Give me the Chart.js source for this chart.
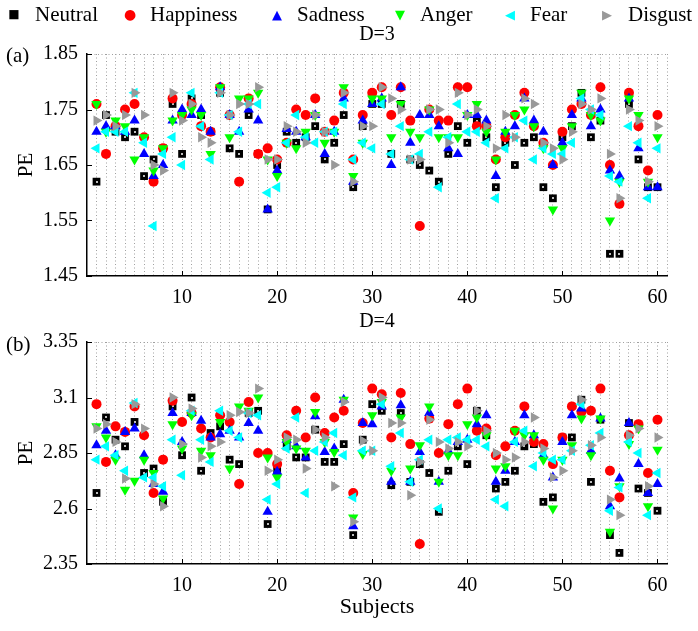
<!DOCTYPE html>
<html>
<head>
<meta charset="utf-8">
<script src="https://cdn.jsdelivr.net/npm/chart.js@4.4.0/dist/chart.umd.min.js"></script>
<style>
  body { margin: 0; background: #fff; font-family: "Liberation Serif", "Times New Roman", serif; }
  #wrap { position: relative; width: 698px; height: 631px; overflow: hidden; }
  canvas { position: absolute; left: 0; }
  .txt { position: absolute; font-size: 21px; line-height: 1; white-space: nowrap; color: #000; }
  .mid { transform: translate(-50%, -50%); }
  .mk { position: absolute; transform: translate(-50%, -50%); font-family: "DejaVu Sans", sans-serif; line-height: 1; }
</style>
</head>
<body>
<div id="wrap">
  <canvas id="chartA" width="698" height="310" style="top:0"></canvas>
  <canvas id="chartB" width="698" height="321" style="top:310px"></canvas>

  <span class="mk" style="left:14px;top:14px;font-size:12px;color:#000">■</span>
  <span class="txt" style="left:35px;top:4px">Neutral</span>
  <span class="mk" style="left:130px;top:14px;font-size:14px;color:#ff0000">●</span>
  <span class="txt" style="left:150px;top:4px">Happiness</span>
  <span class="mk" style="left:277px;top:14px;font-size:13px;color:#0000ff">▲</span>
  <span class="txt" style="left:297px;top:4px">Sadness</span>
  <span class="mk" style="left:400px;top:14px;font-size:13px;color:#00ff00">▼</span>
  <span class="txt" style="left:420px;top:4px">Anger</span>
  <span class="mk" style="left:510px;top:14px;font-size:13px;color:#00ffff">◀</span>
  <span class="txt" style="left:530px;top:4px">Fear</span>
  <span class="mk" style="left:607px;top:14px;font-size:13px;color:#999999">▶</span>
  <span class="txt" style="left:628px;top:4px">Disgust</span>

  <span class="txt mid" style="left:377px;top:33px;font-size:20px">D=3</span>
  <span class="txt mid" style="left:377px;top:320px;font-size:20px">D=4</span>
  <span class="txt" style="left:6px;top:45px">(a)</span>
  <span class="txt" style="left:6px;top:334px">(b)</span>
</div>
<script>
// x categories: subject index
const subjects = Array.from({ length: 60 }, (_, i) => i + 1);
const emotions = ['Neutral', 'Happiness', 'Sadness', 'Anger', 'Fear', 'Disgust'];

// panel (a), D=3
const d3Neutral   = [1.62,1.74,1.71,1.70,1.71,1.63,1.66,1.68,1.76,1.67, 1.77,1.74,1.71,1.78,1.68,1.67,1.74,1.67,1.57,1.65, 1.71,1.69,1.70,1.72,1.66,1.69,1.74,1.61,1.72,1.76, 1.76,1.67,1.76,1.66,1.65,1.64,1.62,1.67,1.72,1.69, 1.73,1.70,1.61,1.69,1.65,1.69,1.70,1.61,1.59,1.70, 1.72,1.78,1.70,1.73,1.49,1.49,1.76,1.66,1.61,1.61];
const d3Happiness = [1.76,1.67,1.72,1.75,1.76,1.70,1.62,1.68,1.77,1.74, 1.76,1.72,1.71,1.79,1.74,1.62,1.77,1.67,1.68,1.66, 1.69,1.75,1.74,1.77,1.71,1.73,1.78,1.66,1.74,1.78, 1.79,1.74,1.79,1.73,1.54,1.75,1.73,1.73,1.79,1.79, 1.72,1.72,1.66,1.70,1.74,1.78,1.72,1.69,1.65,1.71, 1.75,1.76,1.74,1.79,1.65,1.58,1.78,1.72,1.64,1.74];
const d3Sadness   = [1.71,1.72,1.72,1.71,1.73,1.67,1.63,1.65,1.73,1.75, 1.74,1.75,1.71,1.79,1.74,1.71,1.75,1.73,1.57,1.64, 1.715,1.71,1.70,1.74,1.67,1.71,1.77,1.62,1.73,1.76, 1.77,1.65,1.79,1.69,1.74,1.74,1.72,1.68,1.67,1.74, 1.74,1.73,1.63,1.71,1.72,1.77,1.73,1.71,1.65,1.69, 1.74,1.77,1.72,1.75,1.64,1.63,1.77,1.68,1.61,1.61];
const d3Anger     = [1.76,1.71,1.73,1.72,1.66,1.70,1.64,1.68,1.73,1.74, 1.75,1.74,1.67,1.79,1.70,1.77,1.77,1.78,1.66,1.63, 1.69,1.68,1.71,1.74,1.69,1.71,1.79,1.63,1.69,1.77, 1.77,1.70,1.76,1.71,1.70,1.75,1.70,1.70,1.70,1.74, 1.76,1.71,1.66,1.71,1.74,1.75,1.72,1.68,1.57,1.68, 1.72,1.78,1.74,1.73,1.55,1.62,1.77,1.74,1.62,1.70];
const d3Fear      = [1.68,1.71,1.71,1.71,1.78,1.69,1.54,1.67,1.70,1.65, 1.78,1.72,1.66,1.78,1.74,1.71,1.76,1.76,1.60,1.61, 1.69,1.74,1.70,1.69,1.71,1.71,1.76,1.66,1.69,1.68, 1.76,1.67,1.72,1.66,1.67,1.71,1.61,1.70,1.76,1.71, 1.71,1.69,1.59,1.68,1.70,1.73,1.66,1.68,1.67,1.67, 1.69,1.77,1.75,1.74,1.63,1.62,1.72,1.69,1.59,1.68];
const d3Disgust   = [1.73,1.74,1.72,1.74,1.78,1.74,1.65,1.64,1.78,1.73, 1.76,1.70,1.69,1.78,1.74,1.76,1.76,1.79,1.66,1.66, 1.72,1.71,1.69,1.74,1.71,1.65,1.78,1.62,1.72,1.72, 1.79,1.77,1.75,1.66,1.66,1.75,1.75,1.69,1.78,1.74, 1.75,1.72,1.68,1.74,1.70,1.77,1.76,1.69,1.68,1.66, 1.71,1.76,1.75,1.77,1.67,1.59,1.75,1.73,1.62,1.72];

// panel (b), D=4
const d4Neutral   = [2.67,3.01,2.91,2.88,2.99,2.76,2.78,2.63,3.06,2.84, 3.10,2.77,2.94,2.97,2.82,2.80,3.03,3.04,2.53,2.77, 2.88,2.83,2.83,2.955,2.81,2.81,2.89,2.48,2.91,3.07, 3.04,2.705,3.03,2.72,2.80,2.76,2.585,2.77,2.88,2.80, 3.04,2.93,2.69,2.72,2.77,2.88,2.89,2.63,2.65,2.92, 2.92,3.09,2.72,3.00,2.48,2.40,2.985,2.69,2.67,2.59];
const d4Happiness = [3.07,2.81,2.97,2.945,3.06,2.93,2.67,2.82,3.085,2.99, 3.03,2.96,2.92,3.02,2.99,2.71,3.08,2.85,2.85,2.80, 2.93,3.04,2.92,3.10,2.94,3.01,3.04,2.67,2.985,3.14, 3.115,2.92,3.12,2.89,2.44,3.005,2.85,2.98,3.07,3.14, 2.95,2.96,2.84,2.88,2.95,3.06,2.90,2.89,2.80,2.92, 3.06,3.035,3.04,3.14,2.77,2.65,2.93,2.98,2.76,3.00];
const d4Sadness   = [2.885,2.95,2.84,2.945,2.96,2.84,2.71,2.675,3.03,2.90, 3.03,2.995,2.92,2.935,2.95,2.92,2.985,2.95,2.585,2.765, 2.91,2.88,2.83,3.015,2.855,2.87,3.09,2.52,2.985,2.98, 3.06,2.72,3.065,2.72,2.855,3.03,2.72,2.86,2.90,2.91, 2.98,3.02,2.72,2.77,2.90,3.02,2.93,2.84,2.74,2.90, 3.02,3.05,2.86,3.005,2.61,2.735,2.985,2.80,2.67,2.71];
const d4Anger     = [2.97,2.92,2.82,2.685,2.725,2.82,2.76,2.645,2.98,2.87, 3.02,2.86,2.84,2.99,2.78,3.06,3.04,3.10,2.83,2.74, 2.90,2.87,2.86,3.035,2.90,2.855,3.09,2.56,2.845,3.02, 3.08,2.77,3.01,2.78,2.885,3.06,2.72,2.84,2.84,2.98, 3.01,2.93,2.78,2.79,2.95,2.93,2.93,2.82,2.60,2.82, 2.885,3.005,2.84,3.005,2.495,2.70,2.89,2.96,2.61,2.865];
const d4Fear      = [2.82,2.88,2.84,2.77,3.075,2.74,2.74,2.70,2.91,2.75, 3.04,2.91,2.81,3.04,2.95,2.92,3.03,3.02,2.64,2.71, 2.87,3.01,2.67,2.86,2.90,2.94,2.84,2.65,2.86,2.86, 3.07,2.79,2.94,2.72,2.82,2.91,2.60,2.91,2.92,2.91, 2.91,2.88,2.64,2.61,2.90,2.95,2.79,2.85,2.82,2.82, 2.86,3.07,2.885,2.94,2.59,2.695,2.90,2.85,2.57,2.76];
const d4Disgust   = [2.96,2.98,2.90,2.735,3.07,2.96,2.71,2.61,3.10,2.89, 3.05,2.83,2.88,2.90,3.02,3.035,3.03,3.14,2.77,2.82, 2.92,2.91,2.78,2.955,2.92,2.70,3.08,2.54,2.905,2.86, 3.10,2.985,2.985,2.66,2.81,3.00,2.90,2.87,2.90,2.88, 3.04,2.95,2.85,2.82,2.83,2.90,3.01,2.87,2.74,2.77, 2.86,3.09,2.885,2.92,2.64,2.57,2.93,2.96,2.70,2.92];

const markers = [
  { color: '#000000', style: 'rect', r: 5.5, rot: 0 },
  { color: '#ff0000', style: 'circle', r: 5, rot: 0 },
  { color: '#0000ff', style: 'triangle', r: 6, rot: 0 },
  { color: '#00ff00', style: 'triangle', r: 6, rot: 180 },
  { color: '#00ffff', style: 'triangle', r: 6, rot: 270 },
  { color: '#999999', style: 'triangle', r: 6, rot: 90 },
];

const serif = '"Liberation Serif", "Times New Roman", serif';

// matlab-like inward tick marks
const innerTicks = {
  id: 'innerTicks',
  afterDatasetDraw(chart, args) {
    // small light dot in the middle of each black square
    if (args.index !== 0) return;
    const ctx = chart.ctx;
    ctx.save();
    ctx.fillStyle = '#bdbdbd';
    args.meta.data.forEach(p => {
      ctx.fillRect(Math.round(p.x) - 1, Math.round(p.y) - 1, 2, 2);
    });
    ctx.restore();
  },
  afterDraw(chart) {
    const { ctx, chartArea: a, scales: { x, y } } = chart;
    ctx.save();
    ctx.strokeStyle = '#000';
    ctx.lineWidth = 1;
    ctx.beginPath();
    x.ticks.forEach(t => {
      if (t.value % 10 === 0 && t.value > 0) {
        const px = Math.round(x.getPixelForValue(t.value)) + 0.5;
        ctx.moveTo(px, a.bottom);
        ctx.lineTo(px, a.bottom - 5);
      }
    });
    y.ticks.forEach(t => {
      const py = Math.round(y.getPixelForValue(t.value)) + 0.5;
      ctx.moveTo(a.left, py);
      ctx.lineTo(a.left + 5, py);
    });
    ctx.stroke();
    ctx.restore();
  }
};

function buildChart(id, series, yMin, yMax, yStep, padTop, xHeight, showXTitle) {
  return new Chart(document.getElementById(id), {
    type: 'scatter',
    data: {
      datasets: series.map((vals, k) => ({
        label: emotions[k],
        data: subjects.map((s, i) => ({ x: s, y: vals[i] })),
        backgroundColor: markers[k].color,
        borderColor: markers[k].color,
        borderWidth: 0,
        pointStyle: markers[k].style,
        pointRadius: markers[k].r,
        pointHoverRadius: markers[k].r,
        pointRotation: markers[k].rot,
        order: 6 - k
      }))
    },
    options: {
      responsive: false,
      animation: false,
      layout: { padding: { top: padTop, right: 31, left: 0, bottom: 0 } },
      plugins: { legend: { display: false }, tooltip: { enabled: false } },
      scales: {
        x: {
          type: 'linear', min: 0, max: 61,
          afterFit: s => { s.height = xHeight; },
          ticks: {
            stepSize: 1, autoSkip: false, maxRotation: 0, padding: 10, color: '#000',
            font: { family: serif, size: 20 },
            callback: v => (v % 10 === 0 && v > 0) ? String(v) : ''
          },
          grid: {
            drawTicks: false, lineWidth: 1,
            color: c => (c.tick && c.tick.value > 0) ? '#a0a0a0' : 'rgba(0,0,0,0)'
          },
          border: { display: true, color: '#000', width: 1.5, dash: [1, 2.5] },
          title: {
            display: showXTitle, text: 'Subjects', color: '#000',
            font: { family: serif, size: 22 }, padding: { top: 0, bottom: 11 }
          }
        },
        y: {
          min: yMin, max: yMax,
          afterFit: s => { s.width = 87; },
          ticks: {
            stepSize: yStep, padding: 9, color: '#000',
            font: { family: serif, size: 20 },
            callback: v => String(Number(v.toFixed(2)))
          },
          grid: {
            drawTicks: false, lineWidth: 1,
            color: c => (c.tick && Math.abs(c.tick.value - yMax) < 1e-6) ? '#a0a0a0' : 'rgba(0,0,0,0)'
          },
          border: { display: true, color: '#000', width: 1.5, dash: [1, 2.5] },
          title: {
            display: true, text: 'PE', color: '#000',
            font: { family: serif, size: 21 }, padding: { top: 14, bottom: 0 }
          }
        }
      }
    },
    plugins: [innerTicks]
  });
}

buildChart('chartA', [d3Neutral, d3Happiness, d3Sadness, d3Anger, d3Fear, d3Disgust], 1.45, 1.85, 0.1, 54, 34, false);
buildChart('chartB', [d4Neutral, d4Happiness, d4Sadness, d4Anger, d4Fear, d4Disgust], 2.35, 3.35, 0.25, 32, 67, true);
</script>
</body>
</html>
